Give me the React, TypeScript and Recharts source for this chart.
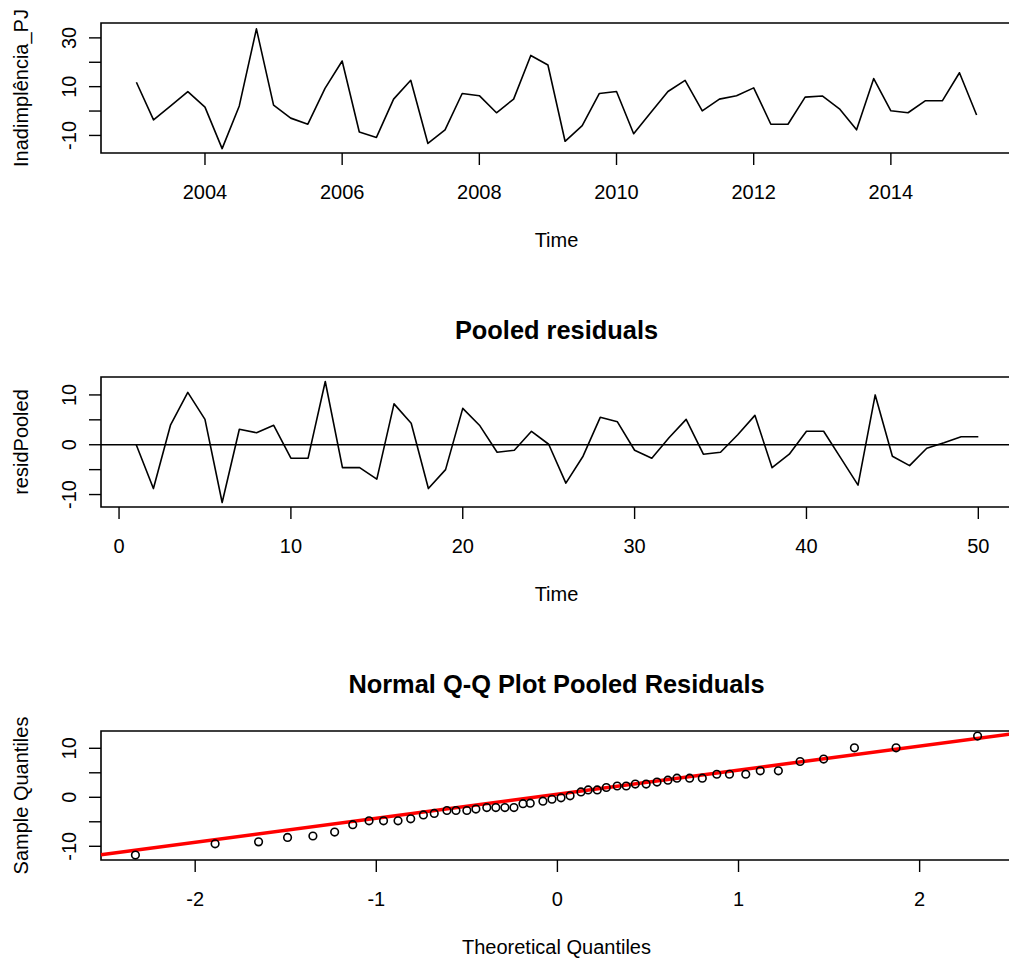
import React from 'react';
import {
  LineChart,
  Line,
  ComposedChart,
  Scatter,
  XAxis,
  YAxis,
  ReferenceArea,
  ReferenceLine,
} from 'recharts';

const FONT = '"Liberation Sans", Arial, Helvetica, sans-serif';

// ---- data ----
const startYear = 2003;
const quartersPerYear = 4;
const inadimplenciaPJ = [
  11.8, -3.6, 2.1, 8.0, 1.6, -15.4, 2.1, 33.7, 2.4, -2.9,
  -5.4, 9.3, 20.5, -8.6, -10.8, 4.9, 12.6, -13.3, -7.7, 7.2,
  6.3, -0.7, 4.9, 22.8, 18.9, -12.4, -6.0, 7.2, 8.0, -9.3,
  -0.6, 8.0, 12.6, 0.1, 4.9, 6.3, 9.5, -5.4, -5.4, 5.7,
  6.2, 0.9, -7.7, 13.3, 0.1, -0.7, 4.2, 4.2, 15.7, -1.6,
];
const residPooled = [
  0.0, -8.8, 4.0, 10.5, 5.1, -11.6, 3.1, 2.4, 3.9, -2.7,
  -2.7, 12.7, -4.6, -4.6, -6.9, 8.2, 4.3, -8.8, -5.0, 7.3,
  3.8, -1.5, -1.1, 2.7, 0.1, -7.7, -2.3, 5.5, 4.6, -1.1,
  -2.7, 1.4, 5.1, -1.9, -1.5, 2.0, 5.9, -4.6, -1.9, 2.7,
  2.7, -2.7, -8.1, 10.0, -2.3, -4.2, -0.7, 0.4, 1.6, 1.6,
];
const qqTheoretical = [
  -2.33, -1.89, -1.65, -1.49, -1.35, -1.23, -1.13, -1.04, -0.96, -0.88,
  -0.81, -0.74, -0.68, -0.61, -0.56, -0.50, -0.45, -0.39, -0.34, -0.29,
  -0.24, -0.19, -0.15, -0.08, -0.03, 0.02, 0.07, 0.13, 0.17, 0.22,
  0.27, 0.33, 0.38, 0.43, 0.49, 0.55, 0.61, 0.66, 0.73, 0.80,
  0.88, 0.95, 1.04, 1.12, 1.22, 1.34, 1.47, 1.64, 1.87, 2.32,
];
const qqSample = [
  -11.8, -9.5, -9.1, -8.2, -7.9, -7.1, -5.6, -4.8, -4.8, -4.8,
  -4.4, -3.6, -3.3, -2.7, -2.7, -2.7, -2.4, -2.1, -2.1, -2.1,
  -2.1, -1.3, -1.2, -0.8, -0.4, -0.1, 0.3, 1.1, 1.5, 1.5,
  2.0, 2.3, 2.3, 2.7, 2.7, 3.1, 3.5, 3.9, 3.9, 3.9,
  4.7, 4.7, 4.7, 5.4, 5.4, 7.3, 7.8, 10.1, 10.1, 12.5,
];
const qqLineIntercept = 0.64;
const qqLineSlope = 4.91;

const timeTicks = [2004, 2006, 2008, 2010, 2012, 2014];
const pjYTicks = [-10, 0, 10, 20, 30];
const pjYLabels = [-10, 10, 30];
const indexTicks = [0, 10, 20, 30, 40, 50];
const residYTicks = [-10, -5, 0, 5, 10];
const residYLabels = [-10, 0, 10];
const qqXTicks = [-2, -1, 0, 1, 2];
const qqYTicks = [-10, -5, 0, 5, 10];
const qqYLabels = [-10, 0, 10];

const titleResid = 'Pooled residuals';
const titleQQ = 'Normal Q-Q Plot Pooled Residuals';

// ---- derived tables ----
const pjData = inadimplenciaPJ.map((v, i) => ({ t: startYear + i / quartersPerYear, v }));
const residData = residPooled.map((v, i) => ({ t: i + 1, v }));
const qqData = qqSample.map((y, i) => ({ x: qqTheoretical[i], y }));

// ---- layout ----
const CHART_W = 1020;
const Y_AXIS_W = 101;
const RIGHT_M = 8;
const X_AXIS_H = 100;
const PLOT_CX = (Y_AXIS_W + CHART_W - RIGHT_M) / 2;

const pjXDomain: [number, number] = [2002.484, 2015.766];
const pjYDomain: [number, number] = [-17.2, 36.1];
const rXDomain: [number, number] = [-1.05, 51.96];
const rYDomain: [number, number] = [-12.5, 13.6];
const qXDomain: [number, number] = [-2.52, 2.51];
const qYDomain: [number, number] = [-12.8, 13.53];

const XTick = (props: any) => {
  const { x, y, payload } = props;
  return (
    <text x={x} y={y + 34} textAnchor="middle" fontSize={20} fontFamily={FONT} fill="#000">
      {String(payload.value)}
    </text>
  );
};

const YTick = (props: any) => {
  const { x, y, payload, labels } = props;
  if (!labels || !labels.includes(payload.value)) return <g />;
  return (
    <text
      transform={`translate(${x - 13},${y}) rotate(-90)`}
      x={0}
      y={0}
      textAnchor="middle"
      fontSize={20}
      fontFamily={FONT}
      fill="#000"
    >
      {String(payload.value)}
    </text>
  );
};

const xLabel = (text: string) => (props: any) => {
  const vb = props.viewBox || {};
  return (
    <text x={vb.x + vb.width / 2} y={vb.y + 94} textAnchor="middle" fontSize={20} fontFamily={FONT} fill="#000">
      {text}
    </text>
  );
};

const yLabel = (text: string) => (props: any) => {
  const vb = props.viewBox || {};
  return (
    <text
      transform={`translate(28,${vb.y + vb.height / 2}) rotate(-90)`}
      x={0}
      y={0}
      textAnchor="middle"
      fontSize={20}
      fontFamily={FONT}
      fill="#000"
    >
      {text}
    </text>
  );
};

const tickLineStyle = { stroke: '#000', strokeWidth: 1.4 };

const QQPoint = (props: any) => (
  <circle cx={props.cx} cy={props.cy} r={3.8} fill="none" stroke="#000" strokeWidth={1.6} />
);

export default function App() {
  return (
    <div
      style={{
        position: 'absolute',
        left: 0,
        top: 0,
        width: 1009,
        height: 959,
        overflow: 'hidden',
        background: '#fff',
      }}
    >
      {/* Panel 1 */}
      <div style={{ position: 'absolute', left: 0, top: 0 }}>
        <LineChart
          width={CHART_W}
          height={23 + 130 + X_AXIS_H}
          data={pjData}
          margin={{ top: 23, right: RIGHT_M, left: 0, bottom: 0 }}
        >
          <XAxis
            type="number"
            dataKey="t"
            domain={pjXDomain}
            allowDataOverflow
            ticks={timeTicks}
            interval={0}
            axisLine={false}
            tickLine={tickLineStyle}
            tickSize={12}
            tickMargin={0}
            height={X_AXIS_H}
            tick={<XTick />}
            label={{ content: xLabel('Time') }}
          />
          <YAxis
            type="number"
            domain={pjYDomain}
            allowDataOverflow
            ticks={pjYTicks}
            interval={0}
            width={Y_AXIS_W}
            axisLine={false}
            tickLine={tickLineStyle}
            tickSize={12}
            tickMargin={0}
            tick={<YTick labels={pjYLabels} />}
            label={{ content: yLabel('Inadimplência_PJ') }}
          />
          <ReferenceArea
            x1={pjXDomain[0]}
            x2={pjXDomain[1]}
            y1={pjYDomain[0]}
            y2={pjYDomain[1]}
            fill="none"
            stroke="#000"
            strokeWidth={1.6}
            ifOverflow="visible"
          />
          <Line
            type="linear"
            dataKey="v"
            stroke="#000"
            strokeWidth={1.6}
            strokeLinejoin="round"
            dot={false}
            activeDot={false}
            isAnimationActive={false}
          />
        </LineChart>
      </div>

      {/* Panel 2 */}
      <div style={{ position: 'absolute', left: 0, top: 290 }}>
        <LineChart
          width={CHART_W}
          height={87 + 130 + X_AXIS_H}
          data={residData}
          margin={{ top: 87, right: RIGHT_M, left: 0, bottom: 0 }}
        >
          <text
            x={PLOT_CX}
            y={48.5}
            textAnchor="middle"
            fontSize={25.4}
            fontWeight="bold"
            fontFamily={FONT}
            fill="#000"
          >
            {titleResid}
          </text>
          <XAxis
            type="number"
            dataKey="t"
            domain={rXDomain}
            allowDataOverflow
            ticks={indexTicks}
            interval={0}
            axisLine={false}
            tickLine={tickLineStyle}
            tickSize={12}
            tickMargin={0}
            height={X_AXIS_H}
            tick={<XTick />}
            label={{ content: xLabel('Time') }}
          />
          <YAxis
            type="number"
            domain={rYDomain}
            allowDataOverflow
            ticks={residYTicks}
            interval={0}
            width={Y_AXIS_W}
            axisLine={false}
            tickLine={tickLineStyle}
            tickSize={12}
            tickMargin={0}
            tick={<YTick labels={residYLabels} />}
            label={{ content: yLabel('residPooled') }}
          />
          <ReferenceArea
            x1={rXDomain[0]}
            x2={rXDomain[1]}
            y1={rYDomain[0]}
            y2={rYDomain[1]}
            fill="none"
            stroke="#000"
            strokeWidth={1.6}
            ifOverflow="visible"
          />
          <ReferenceLine y={0} stroke="#000" strokeWidth={1.6} />
          <Line
            type="linear"
            dataKey="v"
            stroke="#000"
            strokeWidth={1.6}
            strokeLinejoin="round"
            dot={false}
            activeDot={false}
            isAnimationActive={false}
          />
        </LineChart>
      </div>

      {/* Panel 3 */}
      <div style={{ position: 'absolute', left: 0, top: 640 }}>
        <ComposedChart
          width={CHART_W}
          height={91 + 129 + X_AXIS_H}
          data={qqData}
          margin={{ top: 91, right: RIGHT_M, left: 0, bottom: 0 }}
        >
          <text
            x={PLOT_CX}
            y={52.5}
            textAnchor="middle"
            fontSize={25.4}
            fontWeight="bold"
            fontFamily={FONT}
            fill="#000"
          >
            {titleQQ}
          </text>
          <XAxis
            type="number"
            dataKey="x"
            domain={qXDomain}
            allowDataOverflow
            ticks={qqXTicks}
            interval={0}
            axisLine={false}
            tickLine={tickLineStyle}
            tickSize={12}
            tickMargin={0}
            height={X_AXIS_H}
            tick={<XTick />}
            label={{ content: xLabel('Theoretical Quantiles') }}
          />
          <YAxis
            type="number"
            dataKey="y"
            domain={qYDomain}
            allowDataOverflow
            ticks={qqYTicks}
            interval={0}
            width={Y_AXIS_W}
            axisLine={false}
            tickLine={tickLineStyle}
            tickSize={12}
            tickMargin={0}
            tick={<YTick labels={qqYLabels} />}
            label={{ content: yLabel('Sample Quantiles') }}
          />
          <ReferenceArea
            x1={qXDomain[0]}
            x2={qXDomain[1]}
            y1={qYDomain[0]}
            y2={qYDomain[1]}
            fill="none"
            stroke="#000"
            strokeWidth={1.6}
            ifOverflow="visible"
          />
          <Scatter dataKey="y" shape={<QQPoint />} isAnimationActive={false} />
          <ReferenceLine
            segment={[
              { x: qXDomain[0], y: qqLineIntercept + qqLineSlope * qXDomain[0] },
              { x: qXDomain[1], y: qqLineIntercept + qqLineSlope * qXDomain[1] },
            ]}
            stroke="#ff0000"
            strokeWidth={3.5}
            ifOverflow="visible"
          />
        </ComposedChart>
      </div>
    </div>
  );
}
